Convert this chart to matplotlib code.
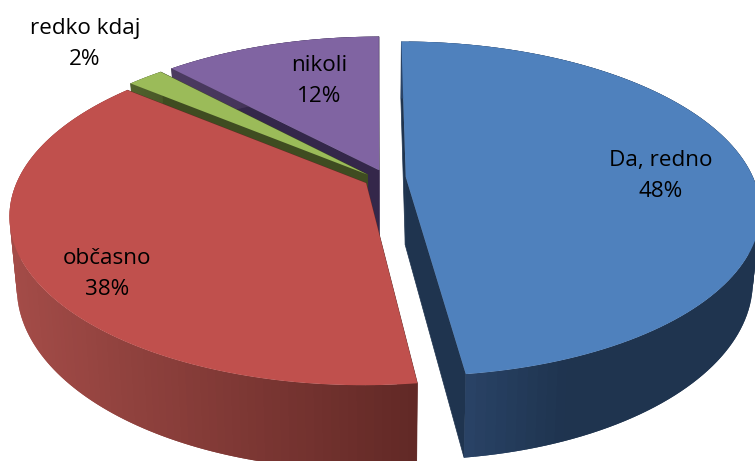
import numpy as np
import matplotlib
matplotlib.use('Agg')
import matplotlib.pyplot as plt
from matplotlib.colors import to_rgb

# slices, clockwise from 12 o'clock
labels = ['Da, redno', 'občasno', 'redko kdaj', 'nikoli']
values = [48, 38, 2, 12]

# look of each slice
top_col = ['#4F81BD', '#C0504D', '#9BBB59', '#8064A2']
cut_col = ['#1F344F', '#622926', '#3F4C21', '#34274A']
side_light = ['#2A4468', '#A44C48', '#5C7035', '#4C3B61']
side_dark = ['#1F344F', '#622926', '#3F4C21', '#34274A']
side_range = [(463, 570), (10, 416), (100, 200), (170, 380)]
# explode offset of each slice on the pie plane
offset = [(0.08, 0.012), (-0.034, -0.025), (-0.03, 0.027), (0.003, 0.055)]
label_xy = [(661, 176), (107, 274), (85, 44), (319, 81)]

# perspective of the pie, in image pixels
x0, y0 = 378, 179
bx, ay = 348, 162
k = 0.19
depth = 68
shrink = 0.98  # bottom ring is a bit narrower than the top


def project(u, v, down=False):
    w = 1 + k*v
    x = bx*u/w
    y = y0 - ay*v/w
    if down:
        x = x*shrink
        y = y + depth/w
    return x0 + x, y


fig = plt.figure(figsize=(7.55, 4.61), dpi=100)
ax = fig.add_axes([0, 0, 1, 1])
ax.set_xlim(0, 755)
ax.set_ylim(461, 0)
ax.axis('off')

edges = np.concatenate([[0], np.cumsum(values)])/sum(values)*2*np.pi

# back slices first, blue last
for i in [3, 2, 1, 0]:
    du, dv = offset[i]
    t = np.linspace(edges[i], edges[i+1], 120)
    u = du + np.sin(t)
    v = dv + np.cos(t)
    xt, yt = project(u, v)
    xb, yb = project(u, v, True)
    cx, cy = project(du, dv)
    cxb, cyb = project(du, dv, True)

    # the two cut faces
    for j in [0, -1]:
        ax.fill([cx, xt[j], xb[j], cxb], [cy, yt[j], yb[j], cyb],
                color=cut_col[i], lw=0.5)

    # outer wall, shaded from left to right, each strip lapping the next
    lo, hi = side_range[i]
    c1 = np.array(to_rgb(side_light[i]))
    c2 = np.array(to_rgb(side_dark[i]))
    for j in range(len(t)-1):
        f = np.clip((xt[j]-lo)/(hi-lo), 0, 1)
        e = min(j+2, len(t)-1)
        ax.fill([xt[j], xt[e], xb[e], xb[j]],
                [yt[j], yt[e], yb[e], yb[j]],
                color=c1 + (c2-c1)*f, lw=0)

    ax.fill(np.r_[cx, xt], np.r_[cy, yt], color=top_col[i], lw=0)

for name, val, (x, y) in zip(labels, values, label_xy):
    ax.text(x, y, f'{name}\n{val}%', ha='center', va='center', fontsize=16.2,
            family='Open Sans', color='black', linespacing=1.65)

fig.savefig('out.png', dpi=100)
